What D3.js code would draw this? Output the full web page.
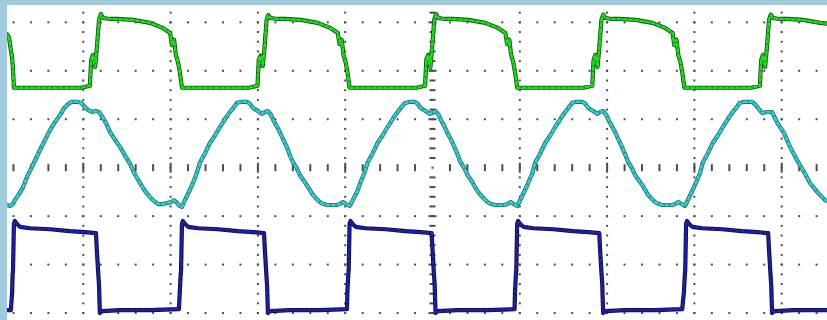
<!DOCTYPE html>
<html><head><meta charset="utf-8">
<script src="https://cdn.jsdelivr.net/npm/d3@7"></script>
<style>html,body{margin:0;padding:0;background:#fff;overflow:hidden}</style>
</head><body>
<svg id="scope" width="827" height="320"></svg>
<script>
// ---- data (time in µs, 20 µs/div; amplitude in screen divisions) ----
const timeGrid = [-80, -60, -40, -20, 0, 20, 40, 60, 80];
const voltGrid = [-3, -2, -1, 0, 1, 2, 3];

// CH1 (green)
const ch1 = [
  [-98.5,2.78],[-97.5,2.76],[-97.0,2.68],[-96.6,2.43],[-96.3,2.26],[-96.1,2.02],[-95.9,1.65],
  [-80.5,1.65],[-78.5,1.69],[-78.2,2.22],[-77.8,2.33],[-77.3,2.08],[-76.9,2.47],[-76.4,3.05],[-76.0,3.17],[-75.5,3.09],[-73.9,3.07],[-72.3,3.07],[-68.6,3.05],[-64.7,2.99],[-61.7,2.88],[-60.1,2.78],[-59.7,2.53],[-59.2,2.64],[-58.8,2.33],[-58.3,2.18],[-57.9,1.98],[-57.4,1.65],
  [-42.1,1.65],[-40.1,1.69],[-39.8,2.22],[-39.4,2.31],[-38.9,2.10],[-38.5,2.47],[-38.0,3.05],[-37.6,3.15],[-37.1,3.09],[-35.5,3.07],[-33.9,3.07],[-30.2,3.05],[-26.3,2.99],[-23.3,2.88],[-21.7,2.78],[-21.3,2.55],[-20.8,2.64],[-20.4,2.33],[-19.9,2.18],[-19.5,1.98],[-19.0,1.65],
  [-3.7,1.65],[-1.7,1.69],[-1.4,2.24],[-1.0,2.33],[-0.5,2.06],[-0.1,2.47],[0.4,3.05],[0.8,3.17],[1.3,3.09],[2.9,3.07],[4.5,3.07],[8.2,3.05],[12.1,2.99],[15.1,2.88],[16.7,2.78],[17.1,2.55],[17.6,2.64],[18.0,2.33],[18.5,2.18],[18.9,1.98],[19.4,1.65],
  [34.6,1.65],[36.6,1.69],[36.9,2.22],[37.3,2.33],[37.8,2.08],[38.2,2.47],[38.7,3.05],[39.1,3.16],[39.6,3.09],[41.2,3.07],[42.8,3.07],[46.5,3.05],[50.4,2.99],[53.4,2.88],[55.0,2.78],[55.4,2.53],[55.9,2.64],[56.3,2.33],[56.8,2.18],[57.2,1.98],[57.7,1.65],
  [73.0,1.65],[75.0,1.69],[75.3,2.22],[75.7,2.33],[76.2,2.08],[76.6,2.47],[77.1,3.05],[77.5,3.16],[78.0,3.09],[79.6,3.07],[81.2,3.07],[84.9,3.05],[88.8,2.99],[90.5,2.97]
];

// CH2 (cyan)
const ch2 = [
  [-98.5,-0.77],[-97.5,-0.77],[-96.8,-0.79],[-96.1,-0.75],[-95.7,-0.67],[-94.7,-0.54],[-93.8,-0.40],[-92.9,-0.19],[-91.8,0.01],[-90.8,0.20],[-89.9,0.37],[-88.8,0.57],[-87.6,0.78],[-86.5,0.94],[-85.3,1.09],[-84.4,1.23],[-83.7,1.29],[-82.8,1.36],[-81.4,1.36],[-80.5,1.34],[-79.6,1.25],[-78.9,1.19],[-78.0,1.15],[-77.1,1.17],[-76.4,1.15],[-75.5,1.03],[-74.6,0.88],[-73.9,0.74],[-72.7,0.57],[-71.6,0.43],[-70.5,0.26],[-69.3,0.08],[-68.2,-0.13],[-67.0,-0.32],[-65.9,-0.48],[-64.7,-0.61],[-63.8,-0.69],[-62.9,-0.75],[-61.7,-0.75],[-60.8,-0.73],[-59.9,-0.71],[-59.2,-0.67],[-58.5,-0.73],[-57.9,-0.79],
  [-57.4,-0.81],[-56.5,-0.63],[-55.6,-0.46],[-54.9,-0.32],[-54.0,-0.11],[-53.3,0.10],[-52.1,0.30],[-51.0,0.51],[-49.8,0.67],[-48.7,0.84],[-47.5,1.01],[-46.4,1.15],[-45.5,1.25],[-44.8,1.34],[-43.6,1.36],[-42.5,1.36],[-41.8,1.32],[-41.1,1.23],[-40.0,1.17],[-39.1,1.11],[-38.4,1.15],[-37.7,1.17],[-37.0,1.09],[-36.5,0.99],[-35.6,0.84],[-34.9,0.72],[-34.0,0.55],[-33.3,0.41],[-32.7,0.26],[-32.0,0.12],[-31.0,-0.03],[-30.4,-0.15],[-29.4,-0.28],[-28.8,-0.36],[-28.1,-0.46],[-27.4,-0.56],[-26.5,-0.65],[-25.8,-0.71],[-24.9,-0.75],[-24.2,-0.77],[-23.0,-0.77],[-21.9,-0.77],[-21.2,-0.75],[-20.5,-0.71],[-19.8,-0.75],[-19.4,-0.77],
  [-19.0,-0.79],[-18.1,-0.64],[-17.2,-0.48],[-16.5,-0.30],[-15.6,-0.11],[-14.9,0.10],[-13.7,0.30],[-12.6,0.51],[-11.4,0.67],[-10.3,0.84],[-9.1,1.01],[-8.0,1.15],[-7.1,1.25],[-6.4,1.33],[-5.2,1.36],[-4.1,1.36],[-3.4,1.32],[-2.7,1.23],[-1.6,1.17],[-0.7,1.11],[0.0,1.13],[0.7,1.17],[1.4,1.09],[1.9,0.99],[2.8,0.84],[3.5,0.70],[4.4,0.55],[5.1,0.41],[5.8,0.26],[6.4,0.12],[7.4,-0.03],[8.0,-0.15],[9.0,-0.28],[9.6,-0.38],[10.3,-0.48],[11.0,-0.56],[11.9,-0.65],[12.6,-0.71],[13.5,-0.75],[14.2,-0.77],[15.4,-0.77],[16.5,-0.77],[17.2,-0.75],[17.9,-0.71],[18.6,-0.75],[19.0,-0.77],
  [19.4,-0.79],[20.3,-0.63],[21.2,-0.46],[21.9,-0.32],[22.9,-0.11],[23.5,0.10],[24.7,0.30],[25.8,0.51],[27.0,0.67],[28.1,0.84],[29.3,1.01],[30.4,1.15],[31.3,1.25],[32.0,1.34],[33.2,1.36],[34.3,1.36],[35.0,1.32],[35.7,1.23],[36.8,1.17],[37.7,1.11],[38.4,1.15],[39.1,1.17],[39.8,1.09],[40.3,0.99],[41.2,0.84],[41.9,0.72],[42.8,0.55],[43.5,0.41],[44.2,0.26],[44.8,0.12],[45.8,-0.03],[46.4,-0.15],[47.4,-0.28],[48.1,-0.36],[48.7,-0.46],[49.4,-0.56],[50.3,-0.65],[51.0,-0.71],[51.9,-0.75],[52.6,-0.77],[53.8,-0.77],[54.9,-0.77],[55.6,-0.75],[56.3,-0.71],[57.0,-0.75],[57.4,-0.77],
  [57.8,-0.79],[58.7,-0.63],[59.6,-0.46],[60.3,-0.32],[61.3,-0.11],[61.9,0.10],[63.1,0.30],[64.2,0.51],[65.4,0.67],[66.5,0.84],[67.7,1.01],[68.8,1.15],[69.7,1.25],[70.4,1.34],[71.6,1.36],[73.2,1.36],[73.9,1.31],[74.6,1.23],[75.5,1.13],[76.6,1.15],[77.8,1.15],[78.9,0.94],[80.5,0.72],[81.9,0.43],[83.5,0.16],[85.1,-0.09],[86.5,-0.32],[88.1,-0.50],[89.9,-0.67],[90.5,-0.69]
];

// CH3 (blue)
const ch3 = [
  [-98.5,-2.94],[-96.6,-2.94],[-96.3,-2.57],[-96.2,-2.22],[-96.1,-2.11],[-95.9,-1.16],[-95.7,-1.10],[-95.2,-1.16],[-94.5,-1.22],[-92.2,-1.25],[-87.6,-1.27],[-83.1,-1.31],[-79.6,-1.33],[-77.1,-1.35],[-76.9,-1.70],[-76.6,-2.15],[-76.4,-2.42],[-76.3,-2.73],[-76.2,-3.00],[-75.7,-2.96],[-71.6,-2.94],[-64.7,-2.94],[-58.1,-2.92],
  [-57.9,-2.57],[-57.7,-2.22],[-57.6,-2.11],[-57.4,-1.16],[-57.2,-1.10],[-56.7,-1.16],[-56.0,-1.22],[-53.7,-1.25],[-49.1,-1.27],[-44.6,-1.31],[-41.1,-1.33],[-38.6,-1.35],[-38.4,-1.70],[-38.1,-2.15],[-37.9,-2.42],[-37.8,-2.73],[-37.7,-3.00],[-37.2,-2.96],[-32.7,-2.94],[-25.8,-2.94],[-19.6,-2.92],
  [-19.5,-2.57],[-19.3,-2.22],[-19.2,-2.11],[-19.0,-1.16],[-18.8,-1.10],[-18.3,-1.16],[-17.6,-1.22],[-15.3,-1.25],[-10.7,-1.27],[-6.2,-1.31],[-2.7,-1.33],[-0.2,-1.35],[0.0,-1.70],[0.3,-2.15],[0.5,-2.42],[0.6,-2.73],[0.7,-3.00],[1.2,-2.96],[5.7,-2.94],[12.6,-2.94],[18.8,-2.92],
  [18.9,-2.57],[19.1,-2.22],[19.2,-2.11],[19.4,-1.16],[19.6,-1.10],[20.1,-1.16],[20.8,-1.22],[23.1,-1.25],[27.7,-1.27],[32.2,-1.31],[35.7,-1.33],[38.2,-1.35],[38.4,-1.70],[38.7,-2.15],[38.9,-2.42],[39.0,-2.73],[39.1,-3.00],[39.6,-2.96],[44.1,-2.94],[51.0,-2.94],[57.2,-2.92],
  [57.6,-2.57],[57.8,-2.22],[57.9,-2.11],[58.1,-1.16],[58.3,-1.10],[58.8,-1.16],[59.5,-1.22],[61.8,-1.25],[66.4,-1.27],[70.9,-1.31],[74.4,-1.33],[76.9,-1.35],[77.1,-1.70],[77.4,-2.15],[77.6,-2.42],[77.7,-2.73],[77.8,-3.00],[78.3,-2.96],[82.8,-2.94],[90.5,-2.94]
];

// ---- drawing ----
const W = 827, H = 320;
const svg = d3.select("#scope");
const plot = {left: 7, top: 5, right: W, bottom: H};

const x = d3.scaleLinear().domain([-100, 100]).range([-4, 869]);
const y = d3.scaleLinear().domain([-4, 4]).range([361.5, -26.1]);

svg.append("rect").attr("width", W).attr("height", H).attr("fill", "#9fcbdc");
svg.append("defs").append("clipPath").attr("id", "clip")
  .append("rect").attr("x", plot.left).attr("y", plot.top)
  .attr("width", plot.right - plot.left).attr("height", plot.bottom - plot.top);
svg.append("rect").attr("x", plot.left).attr("y", plot.top)
  .attr("width", plot.right - plot.left).attr("height", plot.bottom - plot.top)
  .attr("fill", "#ffffff");

const g = svg.append("g").attr("clip-path", "url(#clip)");
const gridCol = "#4d4d4d";
const grid = g.append("g");

const tSub = d3.range(-100, 100.01, 4);      // minor subdivisions (1/5 div)
const vSub = d3.range(-4, 4.001, 0.2);

// horizontal dotted gridlines
voltGrid.filter(v => v !== 0).forEach(v => {
  grid.selectAll(null).data(tSub).enter().append("rect")
    .attr("x", t => x(t) - 1).attr("y", y(v) - 1)
    .attr("width", 2).attr("height", 2).attr("fill", gridCol);
});
// vertical dotted gridlines
timeGrid.filter(t => t !== 0).forEach(t => {
  grid.selectAll(null).data(vSub).enter().append("rect")
    .attr("x", x(t) - 1).attr("y", v => y(v) - 1)
    .attr("width", 2).attr("height", 2).attr("fill", gridCol);
});
// centre horizontal axis: vertical dashes
grid.selectAll(null).data(tSub.filter(t => Math.abs(t) > 1e-6)).enter().append("rect")
  .attr("x", t => x(t) - 1)
  .attr("y", t => y(0) - (Math.abs(t % 20) < 1e-6 ? 5 : 3.5))
  .attr("width", 2)
  .attr("height", t => Math.abs(t % 20) < 1e-6 ? 10 : 7)
  .attr("fill", gridCol);
// centre vertical axis: horizontal dashes
grid.selectAll(null).data(vSub.filter(v => Math.abs(v) > 1e-6)).enter().append("rect")
  .attr("x", v => x(0) - (Math.abs(Math.round(v) - v) < 1e-6 ? 4 : 3))
  .attr("y", v => y(v) - 1)
  .attr("width", v => Math.abs(Math.round(v) - v) < 1e-6 ? 8 : 6)
  .attr("height", 2)
  .attr("fill", gridCol);
grid.append("rect").attr("x", x(0) - 1).attr("y", y(0) - 1)
  .attr("width", 2).attr("height", 2).attr("fill", gridCol);

// traces
const line = d3.line().x(d => x(d[0])).y(d => y(d[1]));
const traces = [
  {data: ch1, under: "#0d4d0d", main: "#1ee01e", speck: "#063006"},
  {data: ch2, under: "#1d6e6e", main: "#33d0d0", speck: "#0b2a2a"},
  {data: ch3, under: "#0a0a45", main: "#2020a8", speck: "#050525"}
];
traces.forEach(tr => {
  g.append("path").attr("d", line(tr.data)).attr("fill", "none")
    .attr("stroke", tr.under).attr("stroke-width", 4.2)
    .attr("stroke-linejoin", "round").attr("stroke-linecap", "round");
  g.append("path").attr("d", line(tr.data)).attr("fill", "none")
    .attr("stroke", tr.main).attr("stroke-width", 2.6)
    .attr("stroke-linejoin", "round").attr("stroke-linecap", "round");
  g.append("path").attr("d", line(tr.data)).attr("fill", "none")
    .attr("stroke", tr.speck).attr("stroke-width", 1.3).attr("opacity", 0.55)
    .attr("stroke-dasharray", "1.2 4.5");
});
</script>
</body></html>
